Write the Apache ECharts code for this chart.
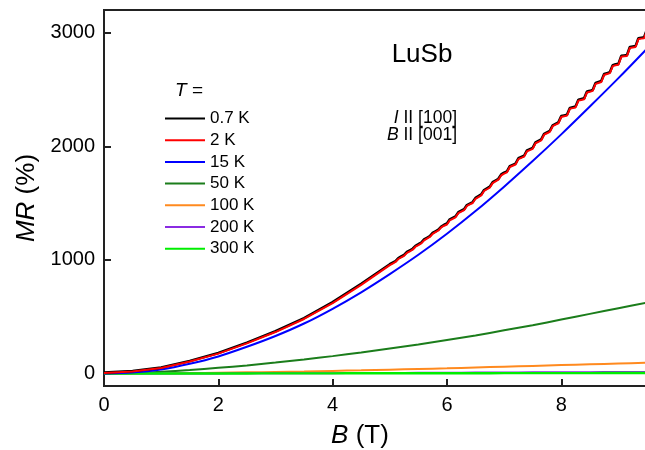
<!DOCTYPE html>
<html><head><meta charset="utf-8">
<script src="https://cdn.jsdelivr.net/npm/echarts@6/dist/echarts.min.js"></script>
<style>html,body{margin:0;padding:0;background:#fff}#c{width:645px;height:450px}</style>
</head><body><div id="c"></div>
<script>
// ---- data ----
var fieldCoarse = [0,0.5,1,1.5,2,2.5,3,3.5,4,4.5,5,5.5,6,6.5,7,7.5,8,8.5,9,9.5];
var fieldFine = [0,0.5,1,1.5,2,2.5,3,3.5,4,4.5,
  5,5.05,5.1,5.15,5.2,5.25,5.3,5.35,5.4,5.45,5.5,5.55,5.6,5.65,5.7,5.75,5.8,5.85,5.9,5.95,
  6,6.05,6.1,6.15,6.2,6.25,6.3,6.35,6.4,6.45,6.5,6.55,6.6,6.65,6.7,6.75,6.8,6.85,6.9,6.95,
  7,7.05,7.1,7.15,7.2,7.25,7.3,7.35,7.4,7.45,7.5,7.55,7.6,7.65,7.7,7.75,7.8,7.85,7.9,7.95,
  8,8.05,8.1,8.15,8.2,8.25,8.3,8.35,8.4,8.45,8.5,8.55,8.6,8.65,8.7,8.75,8.8,8.85,8.9,8.95,
  9,9.05,9.1,9.15,9.2,9.25,9.3,9.35,9.4,9.45,9.5];
var mr07K = [8,22,52,110,180,272,372,488,628,790,
  962,976,990,1016,1030,1044,1070,1084,1098,1124,1138,1153,1180,1195,1210,1237,1252,1267,1294,1309,
  1320,1357,1370,1383,1420,1433,1446,1483,1496,1509,1546,1561,1576,1615,1630,1645,1684,1699,1714,1753,
  1768,1779,1826,1837,1848,1895,1906,1917,1964,1975,1986,2035,2048,2061,2110,2123,2136,2185,2198,2211,
  2266,2272,2278,2338,2344,2350,2410,2416,2422,2482,2488,2496,2558,2566,2574,2636,2644,2652,2714,2722,
  2726,2796,2800,2804,2874,2878,2882,2952,2956,2960,3030];
var mr2K = [5,18,48,105,175,265,365,480,620,780,
  954,968,982,1008,1022,1036,1062,1076,1090,1116,1130,1145,1172,1187,1202,1229,1244,1259,1286,1301,
  1312,1349,1362,1375,1412,1425,1438,1475,1488,1501,1538,1553,1568,1607,1622,1637,1676,1691,1706,1745,
  1760,1771,1818,1829,1840,1887,1898,1909,1956,1967,1978,2027,2040,2053,2102,2115,2128,2177,2190,2203,
  2258,2264,2270,2330,2336,2342,2402,2408,2414,2474,2480,2488,2550,2558,2566,2628,2636,2644,2706,2714,
  2718,2788,2792,2796,2866,2870,2874,2944,2948,2952,3022];
var mr15K  = [0,8,35,85,150,235,330,440,570,715,875,1045,1230,1430,1645,1870,2105,2350,2600,2860];
var mr50K  = [0,5,16,31,50,71,96,123,153,185,220,256,295,335,380,425,475,525,575,625];
var mr100K = [0,0.5,2,4,7,10,14,18,23,28,34,40,46,53,60,67,74,81,88,95];
var mr200K = [0,0.1,0.3,0.6,1,1.5,2,2.5,3,4,5,6,7,8,9,10,11,12,13,14];
var mr300K = [0,0,0,0.2,0.5,0.7,1,1.2,1.5,1.7,2,2.2,2.5,2.7,3,3.2,3.5,3.7,4,4.2];
var seriesNames = ['0.7 K','2 K','15 K','50 K','100 K','200 K','300 K'];
var seriesColors = ['#000000','#ff0000','#0000ff','#1b7d1b','#ff8a1f','#8a2be2','#00ee00'];

function pairs(xs, ys){ return xs.map(function(x,i){ return [x, ys[i]]; }); }

var chart = echarts.init(document.getElementById('c'));
var dataSets = [pairs(fieldFine, mr07K), pairs(fieldFine, mr2K), pairs(fieldCoarse, mr15K),
  pairs(fieldCoarse, mr50K), pairs(fieldCoarse, mr100K), pairs(fieldCoarse, mr200K), pairs(fieldCoarse, mr300K)];
var zs = [6, 8, 5, 3, 2, 3, 4];
var widths = [2.6, 2, 2, 2, 2, 2, 2.4];
var series = seriesNames.map(function(n,i){
  return {name:n, type:'line', data:dataSets[i], showSymbol:false, symbol:'none',
    smooth: i>=2 ? 0.3 : false, z: zs[i],
    lineStyle:{color:seriesColors[i], width:widths[i]}, itemStyle:{color:seriesColors[i]}};
});
var font = 'Liberation Sans, Arial, sans-serif';
chart.setOption({
  animation:false,
  grid:{left:104, top:10, right:-2, bottom:64, outerBoundsMode:'none',
    show:true, borderColor:'#222', borderWidth:2, backgroundColor:'transparent'},
  xAxis:{type:'value', min:0, max:9.5, interval:2,
    axisLine:{onZero:false, lineStyle:{color:'#222', width:2}},
    axisTick:{show:true, inside:true, length:7, lineStyle:{color:'#222', width:2}},
    axisLabel:{color:'#000', fontSize:20, margin:9, fontFamily:font,
      formatter:function(v){ return v % 2 === 0 ? String(v) : ''; }},
    splitLine:{show:false}},
  yAxis:{type:'value', min:-110, max:3200, splitNumber:3,
    axisLine:{show:true, onZero:false, lineStyle:{color:'#222', width:2}},
    axisTick:{show:true, inside:true, length:7, lineStyle:{color:'#222', width:2}},
    axisLabel:{color:'#000', fontSize:20, margin:9, fontFamily:font,
      formatter:function(v){ return v % 1000 === 0 ? String(v) : ''; }},
    splitLine:{show:false}},
  legend:{orient:'vertical', left:165, top:110, padding:0, icon:'rect', itemWidth:40, itemHeight:2,
    itemGap:4.7, data:seriesNames, selectedMode:false,
    textStyle:{fontSize:17, lineHeight:17, color:'#000', fontFamily:font}},
  graphic:[
    {type:'text', x:27, y:198, rotation:Math.PI/2,
      style:{text:'{i|MR} (%)', x:0, y:0, align:'center', verticalAlign:'middle', font:'26px '+font, fill:'#000',
        rich:{i:{fontStyle:'italic', fontSize:26, fontFamily:font, fill:'#000'}}}},
    {type:'text', x:360, y:436,
      style:{text:'{i|B} (T)', align:'center', verticalAlign:'middle', font:'26px '+font, fill:'#000',
        rich:{i:{fontStyle:'italic', fontSize:26, fontFamily:font, fill:'#000'}}}},
    {type:'text', x:175, y:91,
      style:{text:'{i|T} =', align:'left', verticalAlign:'middle', font:'19px '+font, fill:'#000',
        rich:{i:{fontStyle:'italic', fontSize:19, fontFamily:font, fill:'#000'}}}},
    {type:'text', x:422, y:55,
      style:{text:'LuSb', align:'center', verticalAlign:'middle', font:'26px '+font, fill:'#000'}},
    {type:'text', x:457, y:118,
      style:{text:'{i|I} II [100]', align:'right', verticalAlign:'middle', font:'17.5px '+font, fill:'#000',
        rich:{i:{fontStyle:'italic', fontSize:17.5, fontFamily:font, fill:'#000'}}}},
    {type:'text', x:457, y:135,
      style:{text:'{i|B} II [001]', align:'right', verticalAlign:'middle', font:'17.5px '+font, fill:'#000',
        rich:{i:{fontStyle:'italic', fontSize:17.5, fontFamily:font, fill:'#000'}}}}
  ],
  series:series
});
</script></body></html>
